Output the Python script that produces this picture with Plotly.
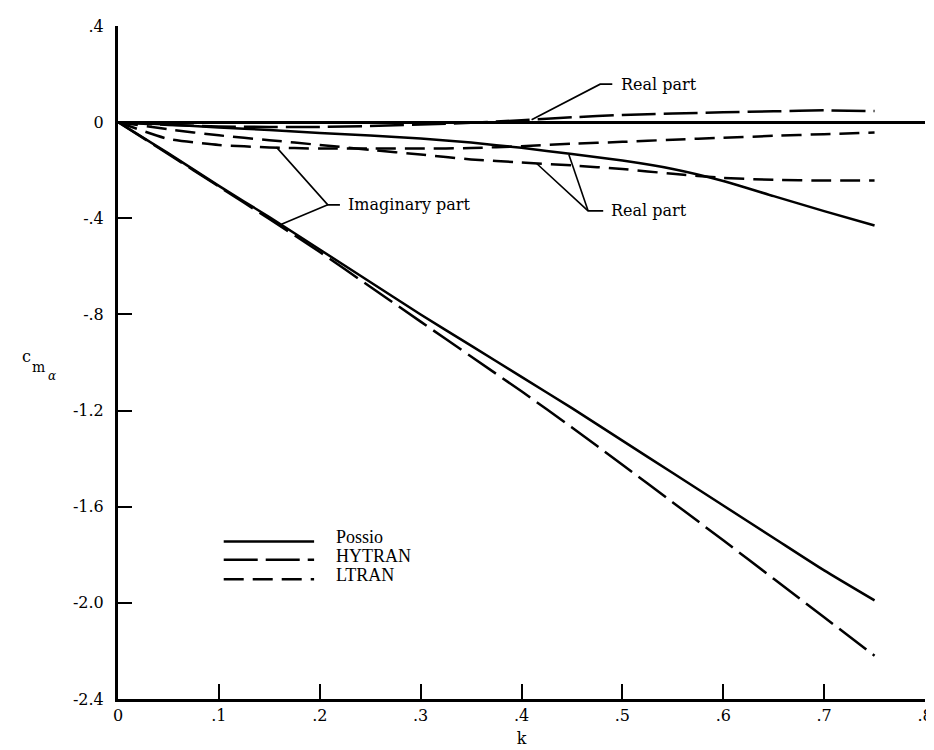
import plotly.graph_objects as go

# ---- data ----
k = [0.0, 0.05, 0.10, 0.15, 0.20, 0.25, 0.30, 0.35, 0.40, 0.45, 0.50, 0.55, 0.60, 0.65, 0.70, 0.75]

possio_real = [0.0, -0.010, -0.022, -0.033, -0.045, -0.056, -0.068, -0.085, -0.107, -0.133, -0.160, -0.195, -0.245, -0.308, -0.370, -0.430]
possio_imag = [0.0, -0.130, -0.265, -0.395, -0.530, -0.665, -0.800, -0.930, -1.060, -1.190, -1.325, -1.460, -1.595, -1.730, -1.865, -1.990]

hytran_real = [0.0, -0.012, -0.018, -0.020, -0.020, -0.016, -0.010, -0.003, 0.008, 0.020, 0.030, 0.036, 0.041, 0.045, 0.049, 0.046]
hytran_imag = [0.0, -0.133, -0.268, -0.403, -0.540, -0.685, -0.830, -0.975, -1.120, -1.270, -1.425, -1.582, -1.740, -1.900, -2.060, -2.220]

ltran_real = [0.0, -0.030, -0.055, -0.075, -0.095, -0.115, -0.135, -0.155, -0.168, -0.180, -0.195, -0.215, -0.232, -0.240, -0.243, -0.243]
ltran_imag = [0.0, -0.070, -0.095, -0.105, -0.110, -0.110, -0.110, -0.108, -0.100, -0.090, -0.082, -0.073, -0.065, -0.057, -0.050, -0.043]

x_ticks = [0, 0.1, 0.2, 0.3, 0.4, 0.5, 0.6, 0.7, 0.8]
x_ticktext = ["0", ".1", ".2", ".3", ".4", ".5", ".6", ".7", ".8"]
y_ticks = [0.4, 0.0, -0.4, -0.8, -1.2, -1.6, -2.0, -2.4]
y_ticktext = [".4", "0", "-.4", "-.8", "-1.2", "-1.6", "-2.0", "-2.4"]

legend_names = ["Possio", "HYTRAN", "LTRAN"]

# ---- styles ----
SERIF = "DejaVu Serif"
LW = 2.5
styles = {
    "Possio": "solid",
    "HYTRAN": "34px,8px",
    "LTRAN": "20px,9px",
}

fig = go.Figure()
series = [
    ("Possio", possio_real), ("Possio", possio_imag),
    ("HYTRAN", hytran_real), ("HYTRAN", hytran_imag),
    ("LTRAN", ltran_real), ("LTRAN", ltran_imag),
]
for name, ys in series:
    fig.add_trace(go.Scatter(
        x=k, y=ys, mode="lines", name=name, showlegend=False,
        line=dict(color="black", width=LW, dash=styles[name], shape="spline", smoothing=0.5),
        hoverinfo="skip",
    ))

# ---- leader lines (callouts) ----
leader_paths = [
    "M 0.410,0.010 L 0.478,0.158 L 0.490,0.158",
    "M 0.415,-0.172 L 0.466,-0.369 L 0.481,-0.369",
    "M 0.447,-0.136 L 0.466,-0.369",
    "M 0.157,-0.104 L 0.208,-0.344 L 0.220,-0.344",
    "M 0.162,-0.425 L 0.208,-0.344",
]
shapes = []
for p in leader_paths:
    shapes.append(dict(type="path", xref="x", yref="y", path=p,
                       line=dict(color="black", width=1.6)))

annotations = [
    dict(x=0.497, y=0.158, text="Real part", xref="x", yref="y", showarrow=False,
         xanchor="left", yanchor="middle", font=dict(family=SERIF, size=16, color="black")),
    dict(x=0.487, y=-0.369, text="Real part", xref="x", yref="y", showarrow=False,
         xanchor="left", yanchor="middle", font=dict(family=SERIF, size=16, color="black")),
    dict(x=0.226, y=-0.344, text="Imaginary part", xref="x", yref="y", showarrow=False,
         xanchor="left", yanchor="middle", font=dict(family=SERIF, size=16, color="black")),
]

# ---- legend drawn as keys + labels (paper coords) ----
leg_y_lines = [0.234, 0.207, 0.178]
leg_y_text = [0.240, 0.212, 0.184]
for name, yl, yt in zip(legend_names, leg_y_lines, leg_y_text):
    shapes.append(dict(type="line", xref="paper", yref="paper",
                       x0=0.131, x1=0.243, y0=yl, y1=yl,
                       line=dict(color="black", width=LW, dash=styles[name])))
    annotations.append(dict(x=0.268, y=yt, xref="paper", yref="paper", text=name,
                            showarrow=False, xanchor="left", yanchor="middle",
                            font=dict(family="Liberation Serif", size=18, color="black")))

# y axis title c_{m_alpha}, built from three pieces
annotations.append(dict(x=-0.1129, y=0.509, xref="paper", yref="paper",
                        text="c", showarrow=False, xanchor="center", yanchor="middle",
                        font=dict(family=SERIF, size=16, color="black")))
annotations.append(dict(x=-0.0982, y=0.494, xref="paper", yref="paper",
                        text="m", showarrow=False, xanchor="center", yanchor="middle",
                        font=dict(family=SERIF, size=14, color="black")))
annotations.append(dict(x=-0.0822, y=0.480, xref="paper", yref="paper",
                        text="<i>α</i>", showarrow=False, xanchor="center", yanchor="middle",
                        font=dict(family=SERIF, size=12, color="black")))

fig.update_layout(
    width=934, height=750,
    margin=dict(l=110, r=9, t=15, b=59),
    paper_bgcolor="white", plot_bgcolor="white",
    showlegend=False,
    shapes=shapes,
    annotations=annotations,
    font=dict(family=SERIF, size=16, color="black"),
)
fig.update_xaxes(
    range=[0, 0.8], tickvals=x_ticks, ticktext=x_ticktext,
    ticks="inside", ticklen=15, tickwidth=2, tickcolor="black",
    showline=True, linewidth=3, linecolor="black", mirror=False,
    showgrid=False, zeroline=False,
    title=dict(text="k", font=dict(family=SERIF, size=16), standoff=9),
    tickfont=dict(family=SERIF, size=16),
)
fig.update_yaxes(
    range=[-2.4, 0.4], tickvals=y_ticks, ticktext=y_ticktext,
    ticks="inside", ticklen=14, tickwidth=2, tickcolor="black",
    showline=True, linewidth=3, linecolor="black", mirror=False,
    showgrid=False, zeroline=True, zerolinecolor="black", zerolinewidth=2.6,
    tickfont=dict(family=SERIF, size=16), ticklabelstandoff=8,
)

fig.write_html("out.html")
